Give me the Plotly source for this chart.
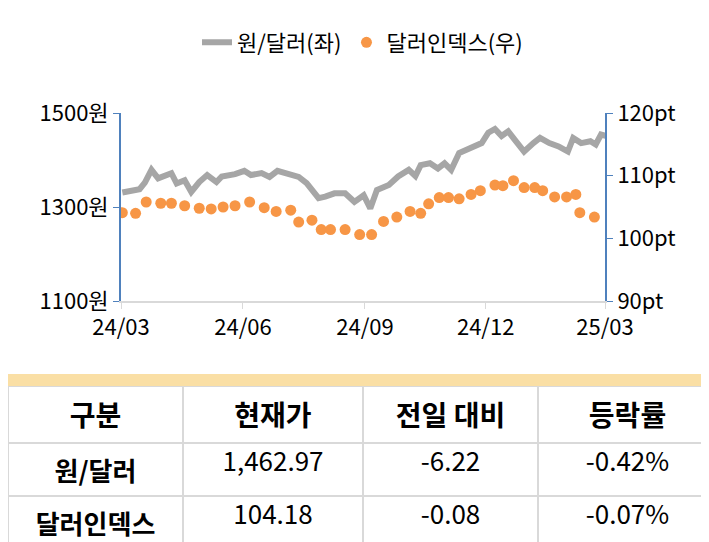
import plotly.graph_objects as go

# data ------------------------------------------------------------------------

krwDates = ['2024-03-02', '2024-03-15', '2024-03-19', '2024-03-24', '2024-03-29',
            '2024-04-03', '2024-04-08', '2024-04-12', '2024-04-18', '2024-04-23',
            '2024-04-29', '2024-05-05', '2024-05-12', '2024-05-16', '2024-05-26',
            '2024-06-02', '2024-06-07', '2024-06-15', '2024-06-21', '2024-06-27',
            '2024-07-06', '2024-07-13', '2024-07-19', '2024-07-28', '2024-08-02',
            '2024-08-09', '2024-08-17', '2024-08-24', '2024-08-31', '2024-09-05',
            '2024-09-10', '2024-09-19', '2024-09-26', '2024-10-04', '2024-10-09',
            '2024-10-13', '2024-10-20', '2024-10-26', '2024-10-31', '2024-11-05',
            '2024-11-11', '2024-11-19', '2024-11-28', '2024-12-03', '2024-12-08',
            '2024-12-13', '2024-12-18', '2024-12-23', '2024-12-30', '2025-01-06',
            '2025-01-11', '2025-01-18', '2025-01-25', '2025-02-01', '2025-02-05',
            '2025-02-11', '2025-02-18', '2025-02-22', '2025-02-26', '2025-03-02']
krwValues = [1331, 1338, 1352, 1379, 1361, 1368, 1372, 1350, 1357, 1332,
             1353, 1368, 1353, 1365, 1370, 1377, 1368, 1372, 1364, 1377,
             1368, 1364, 1351, 1319, 1322, 1329, 1329, 1311, 1325, 1297,
             1336, 1347, 1365, 1379, 1366, 1389, 1393, 1382, 1393, 1379,
             1415, 1426, 1436, 1458, 1466, 1451, 1461, 1443, 1418, 1436,
             1447, 1436, 1429, 1418, 1447, 1436, 1440, 1433, 1454, 1451]

dxyDates = ['2024-03-02', '2024-03-12', '2024-03-20', '2024-03-31', '2024-04-08',
            '2024-04-18', '2024-04-29', '2024-05-08', '2024-05-17', '2024-05-26',
            '2024-06-06', '2024-06-17', '2024-06-26', '2024-07-07', '2024-07-13',
            '2024-07-23', '2024-07-30', '2024-08-06', '2024-08-17', '2024-08-28',
            '2024-09-06', '2024-09-15', '2024-09-25', '2024-10-05', '2024-10-13',
            '2024-10-19', '2024-10-27', '2024-11-03', '2024-11-11', '2024-11-20',
            '2024-11-27', '2024-12-08', '2024-12-14', '2024-12-22', '2024-12-30',
            '2025-01-07', '2025-01-13', '2025-01-22', '2025-01-31', '2025-02-07',
            '2025-02-10', '2025-02-21']
dxyValues = [104.1, 104.0, 105.8, 105.6, 105.6, 105.2, 104.8, 104.7, 105.0, 105.2,
             105.8, 104.9, 104.3, 104.5, 102.6, 102.9, 101.4, 101.4, 101.4, 100.6,
             100.6, 102.7, 103.4, 104.3, 104.0, 105.5, 106.5, 106.5, 106.3, 107.0,
             107.6, 108.5, 108.4, 109.2, 108.1, 108.1, 107.6, 106.6, 106.6, 107.0,
             104.1, 103.4]

tickVals = ['2024-03-01', '2024-06-01', '2024-09-01', '2024-12-01', '2025-03-01']
tickText = ['24/03', '24/06', '24/09', '24/12', '25/03']

tableHeader = ['구분', '현재가', '전일 대비', '등락률']
tableRows = [['원/달러', '1,462.97', '-6.22', '-0.42%'],
             ['달러인덱스', '104.18', '-0.08', '-0.07%']]

# figure ----------------------------------------------------------------------

FONT = 'Noto Sans CJK KR'
AXIS_BLUE = '#4F81BD'

fig = go.Figure()
fig.add_trace(go.Scatter(x=krwDates, y=krwValues, mode='lines', name='원/달러(좌)',
                         line=dict(color='#A6A6A6', width=6), yaxis='y'))
fig.add_trace(go.Scatter(x=dxyDates, y=dxyValues, mode='markers', name='달러인덱스(우)',
                         marker=dict(color='#F79646', size=11), yaxis='y2'))

cols = list(zip(*tableRows))
cells = [['<b>' + v + '</b>' for v in cols[0]]] + [list(c) for c in cols[1:]]
fig.add_trace(go.Table(
    domain=dict(x=[0, 1], y=[0, 1 - 378 / 542]),
    columnwidth=[175, 180, 175, 179],
    header=dict(values=['<b>' + h + '</b>' for h in tableHeader], height=57,
                fill_color='white', line=dict(color='#D9D9D9', width=2),
                font=dict(family=FONT, size=28, color='black'), align='center'),
    cells=dict(values=cells, height=52, fill_color='white',
               line=dict(color='#D9D9D9', width=2),
               font=dict(family=FONT, size=26, color='black'), align='center'),
))

fig.add_shape(type='rect', xref='paper', yref='paper', x0=0, x1=1,
              y0=1 - 378 / 542, y1=1 - 366 / 542, fillcolor='#FADFA5', line_width=0)

fig.update_layout(
    width=709, height=542, margin=dict(l=0, r=0, t=0, b=0, autoexpand=False),
    paper_bgcolor='white', plot_bgcolor='white',
    font=dict(family=FONT, size=22, color='black'),
    legend=dict(orientation='h', x=0.5, xanchor='center', y=0.975, yanchor='top',
                font=dict(size=22)),
    xaxis=dict(domain=[113 / 709, 597 / 709], range=['2024-03-01', '2025-03-01'],
               tickvals=tickVals, ticktext=tickText, showgrid=False,
               showline=True, linecolor='#D9D9D9', linewidth=2, automargin=False,
               ticks='outside', tickcolor='#D9D9D9', ticklen=6, anchor='y'),
    yaxis=dict(domain=[1 - 293 / 542, 1 - 105 / 542], range=[1100, 1500],
               tickvals=[1100, 1300, 1500], ticktext=['1100원', '1300원', '1500원'],
               showgrid=False, zeroline=False, showline=True, linecolor=AXIS_BLUE,
               linewidth=2, ticks='outside', tickcolor=AXIS_BLUE, ticklen=6,
               automargin=False),
    yaxis2=dict(overlaying='y', side='right', range=[90, 120],
                tickvals=[90, 100, 110, 120],
                ticktext=['90pt', '100pt', '110pt', '120pt'],
                showgrid=False, zeroline=False, showline=True, linecolor=AXIS_BLUE,
                linewidth=2, ticks='outside', tickcolor=AXIS_BLUE, ticklen=6,
                anchor='x', automargin=False),
)

fig.write_html('out.html')
